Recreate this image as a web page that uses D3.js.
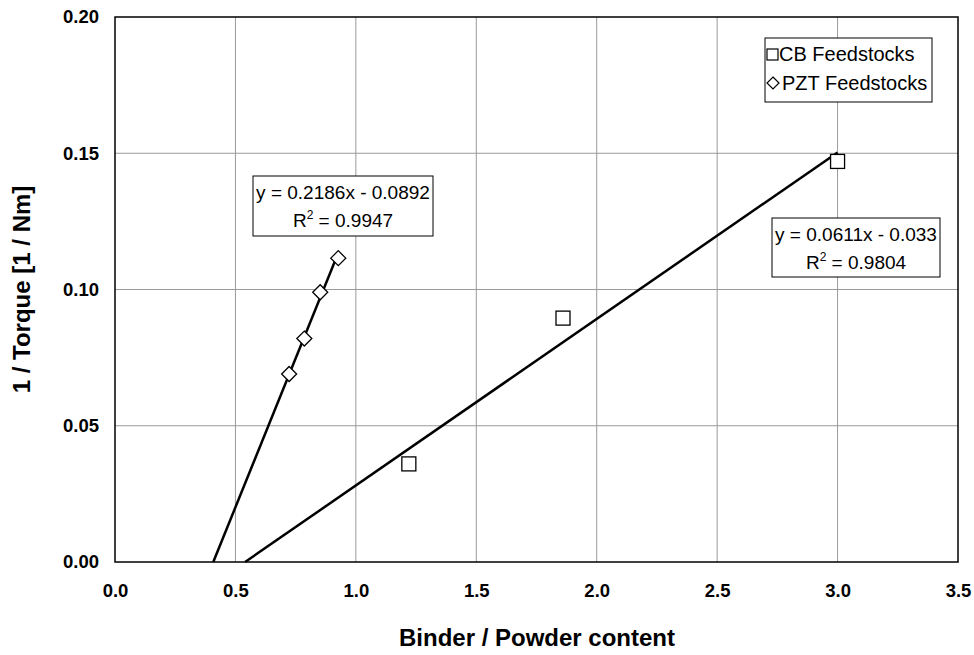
<!DOCTYPE html>
<html>
<head>
<meta charset="utf-8">
<script src="https://cdn.jsdelivr.net/npm/d3@7"></script>
<style>
  html, body { margin: 0; padding: 0; background: #fff; }
  svg { display: block; font-family: "Liberation Sans", Arial, sans-serif; }
</style>
</head>
<body>
<svg id="chart" width="974" height="655"></svg>
<script>
// Binder/powder content vs inverse torque for two feedstock families
const cbX = [1.22, 1.86, 3.0];
const cbY = [0.036, 0.0895, 0.147];
const pztX = [0.723, 0.786, 0.852, 0.927];
const pztY = [0.069, 0.082, 0.099, 0.1115];

// Linear fits (slope, intercept, R²)
const cbFit = { slope: 0.0611, intercept: -0.033, r2: "0.9804" };
const pztFit = { slope: 0.2186, intercept: -0.0892, r2: "0.9947" };

const xTicks = [0, 0.5, 1.0, 1.5, 2.0, 2.5, 3.0, 3.5];
const yTicks = [0, 0.05, 0.10, 0.15, 0.20];

const FONT = "Liberation Sans, Arial, sans-serif";
const svg = d3.select("#chart");
const m = { left: 115, right: 958, top: 17, bottom: 562 };

const x = d3.scaleLinear().domain([0, 3.5]).range([m.left, m.right]);
const y = d3.scaleLinear().domain([0, 0.20]).range([m.bottom, m.top]);

// Gridlines
const grid = svg.append("g");
grid.selectAll(".gx").data(xTicks.slice(1, -1)).join("line")
  .attr("x1", d => x(d)).attr("x2", d => x(d))
  .attr("y1", m.top).attr("y2", m.bottom)
  .attr("stroke", "#9a9a9a").attr("stroke-width", 1);
grid.selectAll(".gy").data(yTicks.slice(1, -1)).join("line")
  .attr("x1", m.left).attr("x2", m.right)
  .attr("y1", d => y(d)).attr("y2", d => y(d))
  .attr("stroke", "#9a9a9a").attr("stroke-width", 1);

// Plot frame
svg.append("rect")
  .attr("x", m.left).attr("y", m.top)
  .attr("width", m.right - m.left).attr("height", m.bottom - m.top)
  .attr("fill", "none").attr("stroke", "#000").attr("stroke-width", 1.5);

// Axes (labels only, no tick marks)
const xAxis = svg.append("g").attr("transform", `translate(0,${m.bottom})`)
  .call(d3.axisBottom(x).tickValues(xTicks).tickFormat(d3.format(".1f")).tickSize(0).tickPadding(22));
xAxis.select(".domain").remove();
xAxis.selectAll("text").attr("font-size", 18.5).attr("font-weight", "bold")
  .attr("font-family", FONT).attr("fill", "#000");

const yAxis = svg.append("g").attr("transform", `translate(${m.left},0)`)
  .call(d3.axisLeft(y).tickValues(yTicks).tickFormat(d3.format(".2f")).tickSize(0).tickPadding(16));
yAxis.select(".domain").remove();
yAxis.selectAll("text").attr("font-size", 18.5).attr("font-weight", "bold")
  .attr("font-family", FONT).attr("fill", "#000");

// Axis titles
svg.append("text").attr("x", 537).attr("y", 646)
  .attr("text-anchor", "middle").attr("font-size", 24).attr("font-weight", "bold")
  .text("Binder / Powder content");
svg.append("text").attr("transform", `translate(30,${(m.top + m.bottom) / 2}) rotate(-90)`)
  .attr("text-anchor", "middle").attr("font-size", 24).attr("font-weight", "bold")
  .text("1 / Torque [1 / Nm]");

// Trendlines: from the x-intercept to the largest measured x
function trend(fit, xs) {
  const x0 = -fit.intercept / fit.slope;
  const x1 = d3.max(xs);
  svg.append("line")
    .attr("x1", x(x0)).attr("y1", y(0))
    .attr("x2", x(x1)).attr("y2", y(fit.slope * x1 + fit.intercept))
    .attr("stroke", "#000").attr("stroke-width", 2.5);
}
trend(pztFit, pztX);
trend(cbFit, cbX);

// CB markers (squares)
const sq = 14;
svg.append("g").selectAll("rect").data(cbX.map((d, i) => [d, cbY[i]])).join("rect")
  .attr("x", d => x(d[0]) - sq / 2).attr("y", d => y(d[1]) - sq / 2)
  .attr("width", sq).attr("height", sq)
  .attr("fill", "#fff").attr("stroke", "#000").attr("stroke-width", 1.3);

// PZT markers (diamonds)
const dm = 7.5;
svg.append("g").selectAll("path").data(pztX.map((d, i) => [d, pztY[i]])).join("path")
  .attr("d", d => {
    const cx = x(d[0]), cy = y(d[1]);
    return `M${cx},${cy - dm}L${cx + dm},${cy}L${cx},${cy + dm}L${cx - dm},${cy}Z`;
  })
  .attr("fill", "#fff").attr("stroke", "#000").attr("stroke-width", 1.3);

// Equation labels
function eqBox(bx, by, w, h, fit) {
  const g = svg.append("g");
  g.append("rect").attr("x", bx).attr("y", by).attr("width", w).attr("height", h)
    .attr("fill", "#fff").attr("stroke", "#000").attr("stroke-width", 1);
  const sign = fit.intercept < 0 ? "-" : "+";
  g.append("text").attr("x", bx + w / 2).attr("y", by + 23)
    .attr("text-anchor", "middle").attr("font-size", 19)
    .text(`y = ${fit.slope}x ${sign} ${Math.abs(fit.intercept)}`);
  const t = g.append("text").attr("x", bx + w / 2).attr("y", by + 51)
    .attr("text-anchor", "middle").attr("font-size", 19);
  t.append("tspan").text("R");
  t.append("tspan").attr("font-size", 12).attr("dy", -8).text("2");
  t.append("tspan").attr("dy", 8).text(` = ${fit.r2}`);
}
eqBox(253, 176, 180, 60, pztFit);
eqBox(772, 218, 168, 59, cbFit);

// Legend
const lg = svg.append("g");
lg.append("rect").attr("x", 765).attr("y", 38).attr("width", 167).attr("height", 64)
  .attr("fill", "#fff").attr("stroke", "#000").attr("stroke-width", 1);
lg.append("rect").attr("x", 767).attr("y", 49).attr("width", 11).attr("height", 11)
  .attr("fill", "#fff").attr("stroke", "#000").attr("stroke-width", 1.2);
lg.append("text").attr("x", 779).attr("y", 61).attr("font-size", 20).text("CB Feedstocks");
lg.append("path").attr("d", "M773,77L779,83L773,89L767,83Z")
  .attr("fill", "#fff").attr("stroke", "#000").attr("stroke-width", 1.2);
lg.append("text").attr("x", 782).attr("y", 90).attr("font-size", 20).text("PZT Feedstocks");
</script>
</body>
</html>
